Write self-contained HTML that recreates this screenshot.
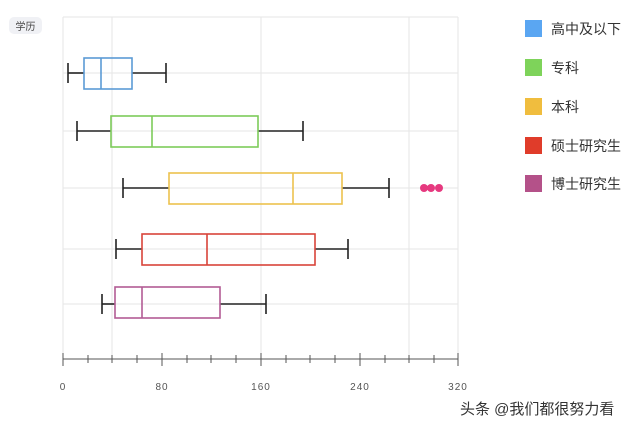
<!DOCTYPE html>
<html><head><meta charset="utf-8"><style>
body{margin:0;background:#fff;width:640px;height:429px;overflow:hidden;font-family:"Liberation Sans","Noto Sans CJK SC",sans-serif}
</style></head><body>
<svg width="640" height="429" xmlns="http://www.w3.org/2000/svg" font-family="Liberation Sans, Noto Sans CJK SC, sans-serif">
<rect x="9" y="17" width="33" height="17" rx="5" fill="#f0f1f5"/>
<text x="25.5" y="30" font-size="10" fill="#444" text-anchor="middle">学历</text>
<g stroke="#e6e6e6" stroke-width="1">
<line x1="63" y1="17" x2="63" y2="359"/><line x1="112" y1="17" x2="112" y2="359"/><line x1="261" y1="17" x2="261" y2="359"/><line x1="409" y1="17" x2="409" y2="359"/><line x1="458" y1="17" x2="458" y2="359"/>
<line x1="63" y1="17" x2="458" y2="17"/>
<line x1="63" y1="73" x2="458" y2="73"/><line x1="63" y1="131" x2="458" y2="131"/><line x1="63" y1="188" x2="458" y2="188"/><line x1="63" y1="249" x2="458" y2="249"/><line x1="63" y1="304" x2="458" y2="304"/>
</g>
<g stroke="#555" stroke-width="1">
<line x1="63" y1="359" x2="458" y2="359"/>
<line x1="63" y1="353" x2="63" y2="366"/><line x1="162" y1="353" x2="162" y2="366"/><line x1="261" y1="353" x2="261" y2="366"/><line x1="360" y1="353" x2="360" y2="366"/><line x1="458" y1="353" x2="458" y2="366"/>
<line x1="88" y1="355" x2="88" y2="363"/><line x1="112" y1="355" x2="112" y2="363"/><line x1="137" y1="355" x2="137" y2="363"/><line x1="187" y1="355" x2="187" y2="363"/><line x1="211" y1="355" x2="211" y2="363"/><line x1="236" y1="355" x2="236" y2="363"/><line x1="286" y1="355" x2="286" y2="363"/><line x1="310" y1="355" x2="310" y2="363"/><line x1="335" y1="355" x2="335" y2="363"/><line x1="385" y1="355" x2="385" y2="363"/><line x1="409" y1="355" x2="409" y2="363"/><line x1="434" y1="355" x2="434" y2="363"/>
</g>
<g font-size="10" fill="#555" text-anchor="middle" letter-spacing="1">
<text x="63" y="390">0</text><text x="162" y="390">80</text><text x="261" y="390">160</text><text x="360" y="390">240</text><text x="458" y="390">320</text>
</g>
<g fill="none" stroke-width="1.6">
<g stroke="#222"><line x1="68" y1="73" x2="84" y2="73"/><line x1="132" y1="73" x2="166" y2="73"/><line x1="68" y1="63" x2="68" y2="83"/><line x1="166" y1="63" x2="166" y2="83"/></g>
<g stroke="#5b9bd5"><rect x="84" y="58" width="48" height="31"/><line x1="101" y1="58" x2="101" y2="89"/></g>
<g stroke="#222"><line x1="77" y1="131" x2="111" y2="131"/><line x1="258" y1="131" x2="303" y2="131"/><line x1="77" y1="121" x2="77" y2="141"/><line x1="303" y1="121" x2="303" y2="141"/></g>
<g stroke="#7dcb5a"><rect x="111" y="116" width="147" height="31"/><line x1="152" y1="116" x2="152" y2="147"/></g>
<g stroke="#222"><line x1="123" y1="188" x2="169" y2="188"/><line x1="342" y1="188" x2="389" y2="188"/><line x1="123" y1="178" x2="123" y2="198"/><line x1="389" y1="178" x2="389" y2="198"/></g>
<g stroke="#ecc24e"><rect x="169" y="173" width="173" height="31"/><line x1="293" y1="173" x2="293" y2="204"/></g>
<g stroke="#222"><line x1="116" y1="249" x2="142" y2="249"/><line x1="315" y1="249" x2="348" y2="249"/><line x1="116" y1="239" x2="116" y2="259"/><line x1="348" y1="239" x2="348" y2="259"/></g>
<g stroke="#d9443a"><rect x="142" y="234" width="173" height="31"/><line x1="207" y1="234" x2="207" y2="265"/></g>
<g stroke="#222"><line x1="102" y1="304" x2="115" y2="304"/><line x1="220" y1="304" x2="266" y2="304"/><line x1="102" y1="294" x2="102" y2="314"/><line x1="266" y1="294" x2="266" y2="314"/></g>
<g stroke="#b25c94"><rect x="115" y="287" width="105" height="31"/><line x1="142" y1="287" x2="142" y2="318"/></g>
</g>
<g fill="#e6397f"><circle cx="424" cy="188" r="4"/><circle cx="431" cy="188" r="4"/><circle cx="439" cy="188" r="4"/></g>
<g font-size="14" fill="#333">
<rect x="525" y="20" width="17" height="17" fill="#5aa6f2"/><text x="551" y="34">高中及以下</text>
<rect x="525" y="59" width="17" height="17" fill="#7ed35a"/><text x="551" y="73">专科</text>
<rect x="525" y="98" width="17" height="17" fill="#f0bd3e"/><text x="551" y="112">本科</text>
<rect x="525" y="137" width="17" height="17" fill="#e03c2a"/><text x="551" y="151">硕士研究生</text>
<rect x="525" y="175" width="17" height="17" fill="#b45189"/><text x="551" y="189">博士研究生</text>
</g>
<text x="460" y="414" font-size="15" fill="#333">头条 @我们都很努力看</text>
</svg>
</body></html>
